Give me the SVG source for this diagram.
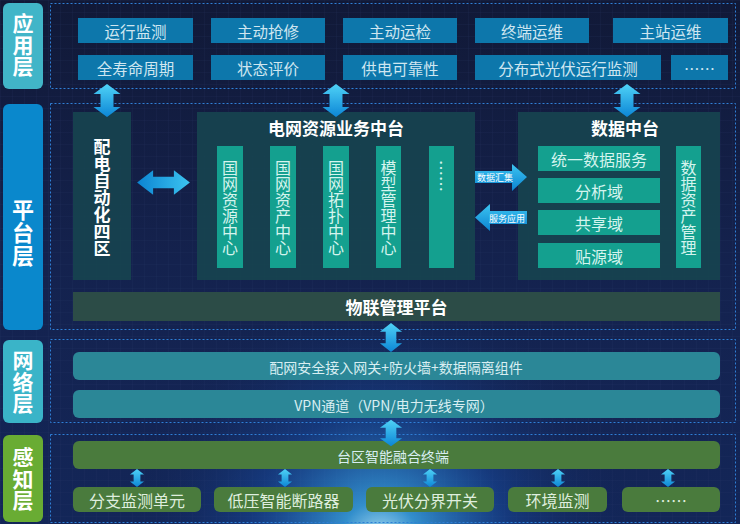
<svg xmlns="http://www.w3.org/2000/svg" width="740" height="524" viewBox="0 0 740 524">
<defs>
<radialGradient id="glow" cx="380" cy="540" r="260" gradientUnits="userSpaceOnUse">
<stop offset="0" stop-color="#bfefff" stop-opacity="0.95"/>
<stop offset="0.15" stop-color="#3aa8e8" stop-opacity="0.8"/>
<stop offset="0.5" stop-color="#1a5cc0" stop-opacity="0.35"/>
<stop offset="1" stop-color="#12204a" stop-opacity="0"/>
</radialGradient>
<linearGradient id="bg" x1="0" y1="0" x2="0" y2="1">
<stop offset="0" stop-color="#111937"/>
<stop offset="0.5" stop-color="#14224e"/>
<stop offset="1" stop-color="#132658"/>
</linearGradient>
<pattern id="grid" width="12" height="12" patternUnits="userSpaceOnUse">
<path d="M12 0 L0 0 L0 12" fill="none" stroke="#2a3a70" stroke-width="0.5" stroke-opacity="0.5"/>
</pattern>
<linearGradient id="arrV" x1="0" y1="0" x2="0" y2="1">
<stop offset="0" stop-color="#4fd2f6"/>
<stop offset="1" stop-color="#0c86d6"/>
</linearGradient>
<linearGradient id="arrH" x1="0" y1="0" x2="0" y2="1">
<stop offset="0" stop-color="#3cc4f0"/>
<stop offset="1" stop-color="#0b84d2"/>
</linearGradient>
<path id="va" d="M0 -16.5 L13.5 -6.5 L6.5 -6.5 L6.5 6.5 L13.5 6.5 L0 16.5 L-13.5 6.5 L-6.5 6.5 L-6.5 -6.5 L-13.5 -6.5 Z"/>
<style>
.t{font-family:"Noto Sans CJK SC","Noto Sans",sans-serif;dominant-baseline:central;text-anchor:middle}
.v{writing-mode:vertical-rl;text-orientation:upright}
.layer{font-size:21px;font-weight:bold;fill:#ffffff;letter-spacing:0.5px}
.app{fill:#0d77ab}
.appt{font-size:15.5px;fill:#cfe6f0}
.panel{fill:none;stroke:#2f7fd6;stroke-width:1;stroke-dasharray:2 2}
.dark{fill:#17434f;fill-opacity:0.92}
.teal{fill:#14a08f}
.tealt{font-size:16px;fill:#d4f4ee}
.title{font-size:17px;font-weight:bold;fill:#ffffff}
.net{fill:#2b8797}
.nett{font-size:14px;fill:#d8eef2}
.green{fill:#4a7b3d}
.greent{font-size:16px;fill:#dfeede}
.small{font-size:9px;fill:#ffffff}
</style>
</defs>
<rect width="740" height="524" fill="url(#bg)"/>
<rect width="740" height="524" fill="url(#grid)"/>
<rect width="740" height="524" fill="url(#glow)"/>

<!-- layer labels -->
<g id="layer-app">
<rect x="3" y="3" width="40" height="86" rx="6" fill="#41b5c8"/>
<text class="t v layer" x="23" y="45">应用层</text>
</g>
<g id="layer-platform">
<rect x="3" y="104" width="40" height="226" rx="6" fill="#0a88cc"/>
<text class="t v layer" x="23" y="233" style="font-size:22px;letter-spacing:1px">平台层</text>
</g>
<g id="layer-network">
<rect x="3" y="340" width="40" height="83" rx="6" fill="#3ab4c8"/>
<text class="t v layer" x="23" y="382">网络层</text>
</g>
<g id="layer-perception">
<rect x="3" y="435" width="40" height="87" rx="6" fill="#69ac33"/>
<text class="t v layer" x="23" y="479">感知层</text>
</g>

<!-- panels -->
<rect class="panel" x="50.5" y="3.5" width="685" height="85"/>
<rect class="panel" x="50.5" y="103.5" width="685" height="226"/>
<rect class="panel" x="50.5" y="339.5" width="685" height="83"/>
<rect class="panel" x="50.5" y="434.5" width="685" height="88"/>

<!-- application layer -->
<g id="app-1"><rect class="app" x="78" y="18" width="115" height="25"/><text class="t appt" x="135.5" y="30.5">运行监测</text></g>
<g id="app-2"><rect class="app" x="211" y="18" width="114" height="25"/><text class="t appt" x="268" y="30.5">主动抢修</text></g>
<g id="app-3"><rect class="app" x="343" y="18" width="114" height="25"/><text class="t appt" x="400" y="30.5">主动运检</text></g>
<g id="app-4"><rect class="app" x="475" y="18" width="114" height="25"/><text class="t appt" x="532" y="30.5">终端运维</text></g>
<g id="app-5"><rect class="app" x="613" y="18" width="115" height="25"/><text class="t appt" x="670.5" y="30.5">主站运维</text></g>
<g id="app-6"><rect class="app" x="78" y="55" width="115" height="25"/><text class="t appt" x="135.5" y="67.5">全寿命周期</text></g>
<g id="app-7"><rect class="app" x="211" y="55" width="114" height="25"/><text class="t appt" x="268" y="67.5">状态评价</text></g>
<g id="app-8"><rect class="app" x="343" y="55" width="114" height="25"/><text class="t appt" x="400" y="67.5">供电可靠性</text></g>
<g id="app-9"><rect class="app" x="475" y="55" width="186" height="25"/><text class="t appt" x="568" y="67.5">分布式光伏运行监测</text></g>
<g id="app-10"><rect class="app" x="671" y="55" width="57" height="25"/><text class="t appt" x="699.5" y="67.5">……</text></g>

<!-- platform layer -->
<g id="pd-zone4">
<rect class="dark" x="73" y="112" width="58" height="168"/>
<text class="t v title" x="102" y="198">配电自动化四区</text>
</g>
<g id="grid-biz">
<rect class="dark" x="197" y="112" width="278" height="168"/>
<text class="t title" x="336" y="127">电网资源业务中台</text>
</g>
<g id="c-res"><rect class="teal" x="217" y="146" width="26" height="122"/>
<text class="t v tealt" x="230" y="208">国网资源中心</text></g>
<g id="c-asset"><rect class="teal" x="270" y="146" width="26" height="122"/>
<text class="t v tealt" x="283" y="208">国网资产中心</text></g>
<g id="c-topo"><rect class="teal" x="323" y="146" width="26" height="122"/>
<text class="t v tealt" x="336" y="208">国网拓扑中心</text></g>
<g id="c-model"><rect class="teal" x="376" y="146" width="25" height="122"/>
<text class="t v tealt" x="388.5" y="208">模型管理中心</text></g>
<g id="c-more"><rect class="teal" x="429" y="146" width="25" height="122"/>
<text class="t tealt" transform="translate(441.5 176) rotate(90)" x="0" y="0">……</text></g>

<g id="data-mid">
<rect class="dark" x="518" y="112" width="202" height="168"/>
<text class="t title" x="625" y="127">数据中台</text>
</g>
<g id="d-svc"><rect class="teal" x="538" y="146" width="122" height="25"/><text class="t tealt" x="599" y="158.5">统一数据服务</text></g>
<g id="d-ana"><rect class="teal" x="538" y="178" width="122" height="25"/><text class="t tealt" x="599" y="190.5">分析域</text></g>
<g id="d-share"><rect class="teal" x="538" y="210" width="122" height="25"/><text class="t tealt" x="599" y="222.5">共享域</text></g>
<g id="d-src"><rect class="teal" x="538" y="243" width="122" height="25"/><text class="t tealt" x="599" y="255.5">贴源域</text></g>
<g id="d-asset"><rect class="teal" x="676" y="146" width="25" height="122"/>
<text class="t v tealt" x="688.5" y="208">数据资产管理</text></g>

<g id="iot">
<rect x="73" y="292" width="647" height="29" fill="#2c4c47"/>
<text class="t title" x="396.5" y="306.5">物联管理平台</text>
</g>

<!-- network layer -->
<g id="net-gw"><rect class="net" x="73" y="352" width="647" height="28" rx="6"/><text class="t nett" x="396" y="366.5">配网安全接入网关+防火墙+数据隔离组件</text></g>
<g id="net-vpn"><rect class="net" x="73" y="390" width="647" height="28" rx="6"/><text class="t nett" x="394" y="404.5">VPN通道（VPN/电力无线专网）</text></g>

<!-- perception layer -->
<g id="ttu"><rect class="green" x="73" y="441" width="647" height="28" rx="6"/><text class="t nett" x="393" y="455.5">台区智能融合终端</text></g>
<g id="p-1"><rect class="green" x="73" y="487" width="128" height="25" rx="6"/><text class="t greent" x="137" y="499.5">分支监测单元</text></g>
<g id="p-2"><rect class="green" x="214" y="487" width="139" height="25" rx="6"/><text class="t greent" x="283.5" y="499.5">低压智能断路器</text></g>
<g id="p-3"><rect class="green" x="366" y="487" width="128" height="25" rx="6"/><text class="t greent" x="430" y="499.5">光伏分界开关</text></g>
<g id="p-4"><rect class="green" x="508" y="487" width="99" height="25" rx="6"/><text class="t greent" x="557.5" y="499.5">环境监测</text></g>
<g id="p-5"><rect class="green" x="622" y="487" width="98" height="25" rx="6"/><text class="t greent" x="671" y="499.5">……</text></g>

<!-- connectors -->
<g id="connectors">
<use href="#va" fill="url(#arrV)" transform="translate(107 100.5)"/>
<use href="#va" fill="url(#arrV)" transform="translate(336 100.5)"/>
<use href="#va" fill="url(#arrV)" transform="translate(627 100.5)"/>
<use href="#va" fill="url(#arrH)" transform="translate(163.5 182.5) rotate(90) scale(0.9 1.6)"/>
<use href="#va" fill="url(#arrV)" transform="translate(391 337.5) scale(0.82 0.88)"/>
<use href="#va" fill="url(#arrV)" transform="translate(391 433) scale(0.82 0.8)"/>
<use href="#va" fill="url(#arrV)" transform="translate(137 478) scale(0.52 0.55)"/>
<use href="#va" fill="url(#arrV)" transform="translate(285 478) scale(0.52 0.55)"/>
<use href="#va" fill="url(#arrV)" transform="translate(430 478) scale(0.52 0.55)"/>
<use href="#va" fill="url(#arrV)" transform="translate(558 478) scale(0.52 0.55)"/>
<use href="#va" fill="url(#arrV)" transform="translate(668 478) scale(0.52 0.55)"/>
<g id="collect">
<path d="M475 171 L512 171 L512 164 L527 177 L512 191 L512 183 L475 183 Z" fill="url(#arrH)"/>
<text class="t small" x="495" y="177.5">数据汇集</text>
</g>
<g id="serve">
<path d="M527 211 L490 211 L490 204 L475 217.5 L490 231 L490 224 L527 224 Z" fill="url(#arrH)"/>
<text class="t small" x="507" y="218">服务应用</text>
</g>
</g>
</svg>
